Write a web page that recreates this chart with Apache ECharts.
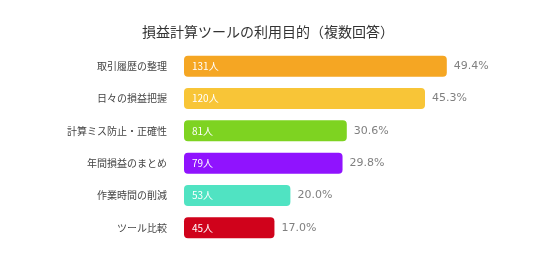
<!DOCTYPE html>
<html><head><meta charset="utf-8">
<script src="https://cdn.jsdelivr.net/npm/echarts@6/dist/echarts.min.js"></script>
<style>html,body{margin:0;padding:0;background:#fff}#c{width:536px;height:270px}</style>
</head><body><div id="c"></div>
<script>
const categories = ["取引履歴の整理","日々の損益把握","計算ミス防止・正確性","年間損益のまとめ","作業時間の削減","ツール比較"];
const counts = [131,120,81,79,53,45];
const percents = [49.4,45.3,30.6,29.8,20.0,17.0];
const colors = ["#F5A623","#F8C537","#7ED321","#9013FE","#50E3C2","#D0021B"];

const chart = echarts.init(document.getElementById('c'), null, {renderer:'canvas'});
chart.setOption({
  animation:false,
  title:{text:'損益計算ツールの利用目的（複数回答）',left:'center',top:20,
    textStyle:{fontFamily:'Noto Sans CJK JP',fontSize:14,fontWeight:'normal',color:'#333'}},
  grid:{left:184,right:86,top:50,bottom:26,containLabel:false},
  xAxis:{type:'value',min:0,max:50,show:false},
  yAxis:{type:'category',data:categories,inverse:true,
    axisLine:{show:false},axisTick:{show:false},
    axisLabel:{margin:17,fontFamily:'Noto Sans CJK JP',fontSize:10,color:'#444'}},
  series:[
    {type:'bar',barWidth:21,
     data:percents.map((v,i)=>({value:v,itemStyle:{color:colors[i],borderRadius:4}})),
     label:{show:true,position:'insideLeft',distance:8,color:'#fff',fontSize:10,
       fontFamily:'Noto Sans CJK JP',formatter:p=>counts[p.dataIndex]+'人'}},
    {type:'bar',barWidth:21,barGap:'-100%',silent:true,
     data:percents.map(v=>({value:v,itemStyle:{color:'rgba(0,0,0,0)'}})),
     label:{show:true,position:'right',distance:7,color:'#808080',fontSize:11,
       fontFamily:'DejaVu Sans',formatter:p=>p.value.toFixed(1)+'%'}}
  ]
});
</script></body></html>
